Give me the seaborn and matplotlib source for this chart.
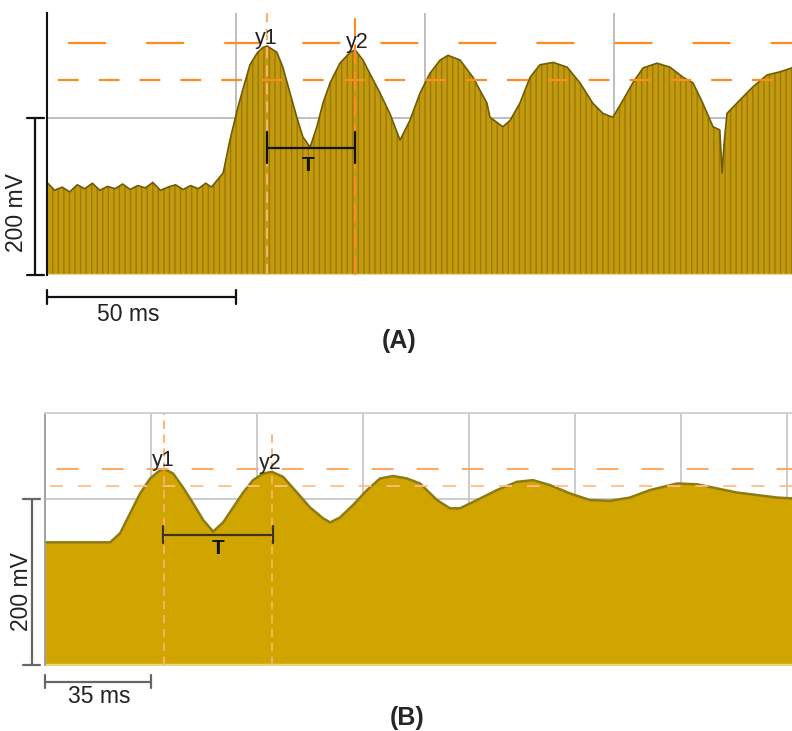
import matplotlib
matplotlib.use("Agg")
import matplotlib.pyplot as plt
import seaborn as sns

# ---- datos (tiempo en ms, tensión en mV) ----
# Registro (A)
a_t = [0, 2, 4, 6, 8, 10, 12, 14, 16, 18, 20, 22, 24, 26, 28, 30, 32, 34, 36, 38, 40, 42, 43.5,
       46.6, 48.4, 50.3, 51.9, 53.7, 55.6, 57.1, 58.2, 59.5, 60.8, 62.4, 64.3, 66.1, 67.7, 69.6,
       71.4, 73.0, 74.9, 77.5, 80.2, 81.5, 83.6, 85.4, 88.1, 90.7, 93.4, 96.0, 98.7, 101.3,
       104.0, 106.1, 109.3, 112.7, 116.4, 117.2, 120.6, 122.5, 125.1, 127.8, 130.4, 133.9,
       137.6, 141.0, 144.4, 147.1, 149.7, 152.4, 155.0, 157.7, 161.4, 164.8, 168.3, 170.9,
       173.5, 176.2, 178.0, 178.6, 179.1, 179.9, 183.3, 186.8, 190.5, 193.9, 197.1]
a_v = [118, 108, 112, 106, 115, 110, 117, 108, 113, 110, 116, 109, 114, 111, 118, 108, 112, 115, 109, 114, 110, 117, 112,
       130, 172, 210, 238, 268, 283, 290, 292, 288, 284, 265, 232, 201, 176, 163,
       189, 219, 245, 270, 284, 287, 274, 257, 232, 206, 172, 197, 232, 257,
       274, 280, 274, 252, 219, 201, 189, 197, 219, 252, 268, 271,
       265, 245, 219, 206, 201, 223, 245, 264, 270, 265, 252, 245,
       219, 189, 185, 130, 166, 206, 223, 240, 255, 259, 264]

# Registro (B)
b_t = [0, 21.5, 24.8, 28.1, 31.4, 34.7, 38.0, 39.6, 42.3, 45.6, 48.9, 52.2, 55.5, 58.8, 62.1,
       65.4, 68.7, 72.0, 74.9, 78.6, 83.2, 87.5, 91.8, 94.1, 97.4, 101.7, 106.3, 110.6, 114.9,
       119.5, 123.8, 129.4, 133.7, 137.0, 142.6, 149.2, 155.8, 161.1, 166.7, 173.3, 179.9,
       186.5, 193.1, 199.7, 208.7, 215.2, 221.9, 228.5, 235.1, 241.7, 246.6]
b_v = [148, 148, 159, 183, 207, 225, 235, 236, 231, 214, 195, 175, 161, 172, 190,
       208, 223, 231, 233, 227, 208, 190, 177, 172, 178, 193, 211, 225, 228,
       225, 219, 199, 189, 189, 199, 211, 221, 223, 217, 207, 199,
       198, 202, 211, 219, 218, 213, 208, 205, 202, 201]

# cursores y1 / y2 (ms) y niveles horizontales (mV)
a_cur_t = [58.2, 81.6]
a_cur_v = [296, 248]
b_cur_t = [39.3, 74.9]
b_cur_v = [236, 216]
a_T = 162
b_T = 157

# escalas de los ejes
a_xmax, a_ymax = 197.1, 334
b_xmax, b_ymax = 246.6, 304
a_bar_ms, b_bar_ms, bar_mv = 50, 35, 200

sns.set_style("white")
plt.rcParams["font.family"] = ["Liberation Sans", "DejaVu Sans"]
plt.rcParams["lines.scale_dashes"] = False
plt.rcParams["hatch.linewidth"] = 1.0

fig = plt.figure(figsize=(7.92, 7.31), dpi=100)
axA = fig.add_axes([47 / 792, 1 - 275 / 731, 745 / 792, 262 / 731])
axB = fig.add_axes([45 / 792, 1 - 665 / 731, 747 / 792, 252 / 731])

# ---------------- (A) ----------------
ax = axA
ax.set_xlim(0, a_xmax)
ax.set_ylim(0, a_ymax)
for g in [50, 100, 150]:
    ax.axvline(g, color="#b4b4b4", lw=1.2, zorder=0.5)
ax.axhline(200, color="#b4b4b4", lw=1.2, zorder=0.5)

ax.fill_between(a_t, 0, a_v, facecolor="#c29a0c", edgecolor="#9a7a0a",
                hatch="|||", lw=0, zorder=1)
sns.lineplot(x=a_t, y=a_v, ax=ax, color="#6f5c06", lw=1.2, zorder=2)
ax.axhline(0.8, color="#e8d890", lw=1.0, zorder=2)

ax.axhline(a_cur_v[0], color="#ff8c1e", lw=1.6, ls=(41, (27.4, 28.8)), zorder=3)
ax.axhline(a_cur_v[1], color="#ff8c1e", lw=1.6, ls=(21.6, (15, 14.4)), zorder=3)
ax.axvline(a_cur_t[0], color="#ffb065", lw=1.5, ls=(0, (8, 5)), zorder=3)
ax.axvline(a_cur_t[1], color="#ff8c1e", lw=1.5, ls=(0, (14, 5)), zorder=3)

ax.text(a_cur_t[0] - 0.3, 302, "y1", fontsize=15.5, ha="center", va="center", color="#222", zorder=4)
ax.text(a_cur_t[1] + 0.4, 297, "y2", fontsize=15.5, ha="center", va="center", color="#222", zorder=4)

ax.plot(a_cur_t, [a_T, a_T], color="#111", lw=1.6, zorder=4)
for tc in a_cur_t:
    ax.plot([tc, tc], [a_T - 19, a_T + 20], color="#111", lw=1.6, zorder=4)
ax.text(69.0, 140, "T", fontsize=15, fontweight="bold", ha="center", va="center", color="#111", zorder=4)

for s in ["top", "right", "bottom"]:
    ax.spines[s].set_visible(False)
ax.spines["left"].set_color("#111")
ax.spines["left"].set_linewidth(1.5)
ax.set_xticks([])
ax.set_yticks([])
ax.set_xlabel("")
ax.set_ylabel("")

# barras de escala (A)
k = dict(color="#111", lw=1.6, clip_on=False)
ax.plot([-3.2, -3.2], [0, bar_mv], **k)
ax.plot([-5.3, -0.8], [0, 0], **k)
ax.plot([-5.3, -0.8], [bar_mv, bar_mv], **k)
ax.plot([0, a_bar_ms], [-28, -28], **k)
ax.plot([0, 0], [-19, -37], **k)
ax.plot([a_bar_ms, a_bar_ms], [-19, -37], **k)
ax.text(21.4, -50, "50 ms", fontsize=16.5, ha="center", va="center", color="#222")
ax.text(-8.0, 79, "200 mV", fontsize=16.5, rotation=90, ha="center", va="center", color="#222")
fig.text(399 / 792, 1 - 341 / 731, "(A)", fontsize=18, fontweight="bold", ha="center", va="center")

# ---------------- (B) ----------------
ax = axB
ax.set_xlim(0, b_xmax)
ax.set_ylim(0, b_ymax)
for g in [35, 70, 105, 140, 175, 210, 245]:
    ax.axvline(g, color="#c4c4c4", lw=1.2, zorder=0.5)
ax.axhline(200, color="#c4c4c4", lw=1.2, zorder=0.5)

ax.fill_between(b_t, 0, b_v, facecolor="#d0a500", lw=0, zorder=1)
sns.lineplot(x=b_t, y=b_v, ax=ax, color="#8e7a12", lw=1.8, zorder=2)
ax.axhline(0.8, color="#ecd880", lw=1.0, zorder=2)

ax.axhline(b_cur_v[0], color="#ffa860", lw=1.4, ls=(24, (15.8, 16.6)), zorder=3)
ax.axhline(b_cur_v[1], color="#ffbe85", lw=1.3, ls=(16.6, (9.4, 10.8)), zorder=3)
ax.axvline(b_cur_t[0], color="#ffb070", lw=1.3, ls=(0, (6, 4)), zorder=3)
ax.plot([b_cur_t[1], b_cur_t[1]], [0, 280], color="#ffb070", lw=1.3, ls=(0, (6, 4)), zorder=3)

ax.text(39.0, 247, "y1", fontsize=15.5, ha="center", va="center", color="#222", zorder=4)
ax.text(74.3, 243, "y2", fontsize=15.5, ha="center", va="center", color="#222", zorder=4)

ax.plot([39.1, 75.4], [b_T, b_T], color="#3c3418", lw=1.6, zorder=4)
for tc in [39.1, 75.4]:
    ax.plot([tc, tc], [b_T - 10, b_T + 11], color="#3c3418", lw=1.6, zorder=4)
ax.text(57.1, 140, "T", fontsize=15, fontweight="bold", ha="center", va="center", color="#111", zorder=4)

for s in ["right", "bottom"]:
    ax.spines[s].set_visible(False)
ax.spines["left"].set_color("#9a9a9a")
ax.spines["left"].set_linewidth(1.3)
ax.spines["top"].set_color("#cfcfcf")
ax.spines["top"].set_linewidth(1.3)
ax.set_xticks([])
ax.set_yticks([])
ax.set_xlabel("")
ax.set_ylabel("")

k = dict(color="#666", lw=1.6, clip_on=False)
ax.plot([-4.3, -4.3], [0, bar_mv], **k)
ax.plot([-7.3, -1.6], [0, 0], **k)
ax.plot([-7.3, -1.6], [bar_mv, bar_mv], **k)
ax.plot([0, b_bar_ms], [-20.5, -20.5], **k)
ax.plot([0, 0], [-12, -28], **k)
ax.plot([b_bar_ms, b_bar_ms], [-12, -28], **k)
ax.text(17.8, -38.6, "35 ms", fontsize=16.5, ha="center", va="center", color="#222")
ax.text(-7.6, 88, "200 mV", fontsize=16.5, rotation=90, ha="center", va="center", color="#222")
fig.text(407 / 792, 1 - 718 / 731, "(B)", fontsize=18, fontweight="bold", ha="center", va="center")

fig.savefig("out.png", dpi=100)
